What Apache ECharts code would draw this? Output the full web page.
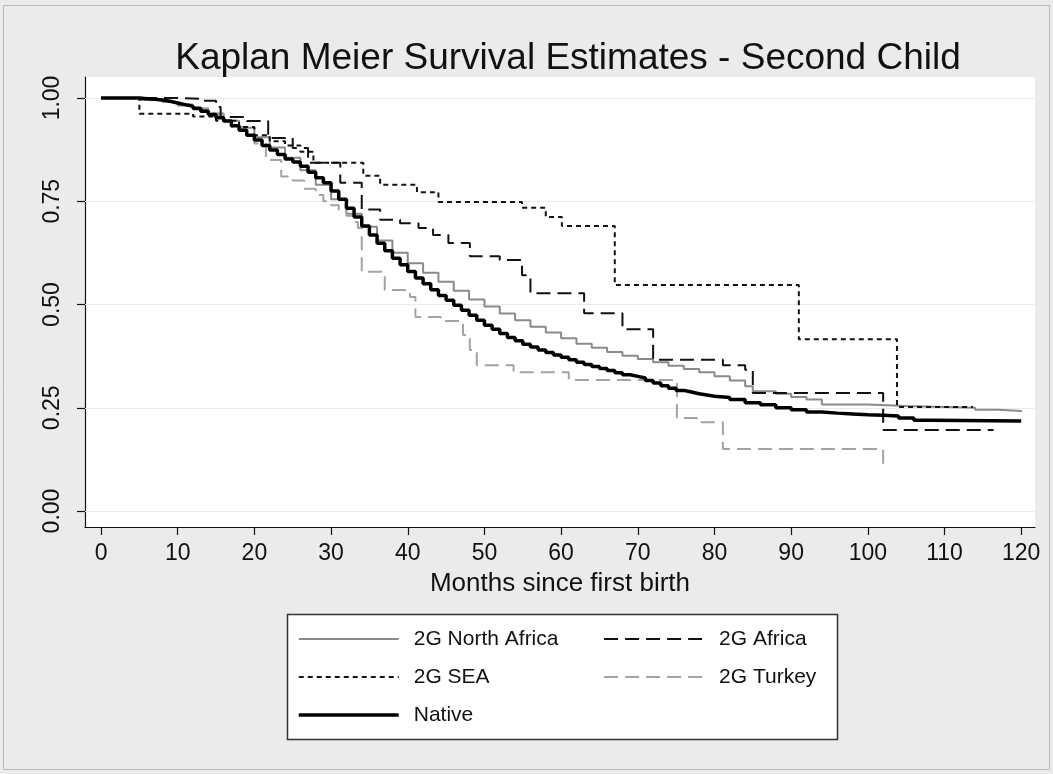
<!DOCTYPE html>
<html>
<head>
<meta charset="utf-8">
<script src="https://cdn.jsdelivr.net/npm/echarts@6/dist/echarts.min.js"></script>
<style>
  html, body { margin: 0; padding: 0; background: #ebebeb; }
  #chart { width: 1053px; height: 774px; }
</style>
</head>
<body>
<div id="chart"></div>
<script>
// Kaplan-Meier survival estimates: [month, survival] pairs, each value holds until the next step
const northAfrica = [[0,1],[5,0.995],[8,0.99],[10,0.982],[12,0.972],[14,0.96],[16,0.945],[18,0.928],[20,0.905],[22,0.88],
  [24,0.855],[26,0.825],[28,0.79],[30,0.755],[32,0.72],[34,0.688],[36,0.655],[38,0.625],[40,0.6],[42,0.577],[44,0.555],
  [46,0.533],[48,0.512],[50,0.495],[52,0.478],[54,0.462],[56,0.446],[58,0.432],[60,0.418],[62,0.405],[64,0.395],[66,0.385],
  [68,0.376],[70,0.368],[72,0.36],[74,0.352],[76,0.344],[78,0.336],[80,0.326],[82,0.316],[84,0.302],[85,0.29],[88,0.284],
  [90,0.276],[92,0.27],[94,0.258],[100,0.254],[105,0.252],[110,0.25],[114,0.245],[117,0.242],[120,0.24]];

const africa = [[0,1],[10,0.998],[13,0.993],[15,0.978],[15.6,0.954],[19,0.944],[21.8,0.903],[25,0.879],[27,0.843],
  [31.2,0.795],[34,0.73],[36.4,0.705],[39,0.697],[41.4,0.685],[43.3,0.668],[45.3,0.649],[48.1,0.617],[52,0.608],
  [54.9,0.571],[56,0.527],[63,0.479],[68,0.44],[72,0.366],[81.1,0.353],[84,0.342],[85,0.286],[102,0.196],[116.4,0.196]];

const sea = [[0,1],[5,0.962],[12,0.955],[15,0.945],[18,0.93],[20,0.91],[22,0.895],[24,0.885],[26,0.87],[27.7,0.843],
  [34.2,0.812],[36.4,0.79],[41.2,0.772],[44,0.748],[54.9,0.734],[58,0.712],[60.1,0.69],[67,0.547],[91,0.416],
  [103.8,0.252],[113.7,0.252]];

const turkey = [[0,1],[8,0.99],[10,0.985],[12,0.975],[14,0.963],[16,0.945],[17,0.93],[19,0.91],[20,0.89],[21.5,0.85],
  [23.5,0.81],[25,0.8],[26.5,0.78],[28,0.765],[29,0.75],[30,0.74],[31,0.728],[32,0.715],[33,0.7],[33.5,0.685],[34,0.579],
  [37,0.535],[40.3,0.518],[41,0.47],[44.3,0.46],[47.2,0.426],[48.1,0.39],[49,0.353],[53.8,0.336],[61,0.317],[75.1,0.225],
  [77.7,0.215],[81.1,0.15],[102,0.107]];

const native = [[0,1],[5,0.998],[6,0.997],[7,0.995],[8,0.992],[9,0.988],[10,0.984],[11,0.98],[12,0.975],[13,0.968],
  [14,0.96],[15,0.952],[16,0.944],[17,0.933],[18,0.922],[19,0.91],[20,0.898],[21,0.885],[22,0.874],[23,0.863],[24,0.852],
  [25,0.845],[26,0.835],[27,0.82],[28,0.807],[29,0.795],[30,0.775],[31,0.755],[32,0.733],[33,0.712],[34,0.69],[35,0.668],
  [36,0.648],[37,0.63],[38,0.612],[39,0.596],[40,0.58],[41,0.564],[42,0.55],[43,0.536],[44,0.522],[45,0.51],[46,0.498],
  [47,0.486],[48,0.474],[49,0.462],[50,0.45],[51,0.44],[52,0.43],[53,0.42],[54,0.412],[55,0.404],[56,0.397],[57,0.39],
  [58,0.384],[59,0.378],[60,0.372],[61,0.366],[62,0.36],[63,0.355],[64,0.35],[65,0.345],[66,0.34],[67,0.335],[68,0.33],
  [69,0.326],[70,0.322],[71,0.316],[72,0.31],[73,0.303],[74,0.297],[75,0.292],[76,0.288],[77,0.284],[78,0.281],[79,0.278],
  [80,0.275],[82,0.27],[84,0.262],[86,0.257],[88,0.25],[90,0.245],[92,0.24],[94,0.237],[96,0.235],[98,0.233],[100,0.232],
  [102,0.23],[104,0.225],[106,0.22],[108,0.218],[120,0.218]];

const xTicks = [0, 10, 20, 30, 40, 50, 60, 70, 80, 90, 100, 110, 120];
const yTicks = [0, 0.25, 0.5, 0.75, 1];

const FONT = "'Liberation Sans', Arial, sans-serif";

function kmSeries(name, data, color, width, dash, z) {
  return {
    name: name,
    type: 'line',
    step: 'end',
    data: data,
    symbol: 'none',
    showSymbol: false,
    z: z,
    lineStyle: { color: color, width: width, type: dash },
    itemStyle: { color: color },
    emphasis: { disabled: true }
  };
}

const chart = echarts.init(document.getElementById('chart'), null, { renderer: 'canvas' });

const legendText = { fontFamily: FONT, fontSize: 21, color: '#111', lineHeight: 22 };
// legend keys show only the line pattern, no marker
const legendKey = { opacity: 0, borderWidth: 0 };

chart.setOption({
  backgroundColor: '#ebebeb',
  animation: false,
  title: {
    text: 'Kaplan Meier Survival Estimates - Second Child',
    left: 563,
    textAlign: 'center',
    top: 35,
    textStyle: { fontFamily: FONT, fontSize: 37, fontWeight: 'normal', color: '#111' }
  },
  graphic: [
    { type: 'rect', z: -1, shape: { x: 3.5, y: 5.5, width: 1046, height: 764 },
      style: { fill: 'none', stroke: '#b8b8b8', lineWidth: 1 } },
    { type: 'rect', z: 1, shape: { x: 287.5, y: 614.5, width: 550, height: 125 },
      style: { fill: '#ffffff', stroke: '#333333', lineWidth: 1.5 } }
  ],
  legend: [
    {
      orient: 'vertical', left: 297, top: 628, padding: 0, itemGap: 16,
      itemWidth: 100, itemHeight: 14, z: 5,
      data: [
        { name: '2G North Africa', lineStyle: { width: 2 } },
        { name: '2G SEA', lineStyle: { width: 2.2 } },
        { name: 'Native', lineStyle: { width: 3.5 } }
      ],
      itemStyle: legendKey,
      textStyle: Object.assign({ padding: [0, 0, 0, 10] }, legendText),
      selectedMode: false
    },
    {
      orient: 'vertical', left: 603, top: 628, padding: 0, itemGap: 16,
      itemWidth: 102, itemHeight: 14, z: 5,
      data: [
        { name: '2G Africa', lineStyle: { width: 2.2 } },
        { name: '2G Turkey', lineStyle: { width: 2 } }
      ],
      itemStyle: legendKey,
      textStyle: Object.assign({ padding: [0, 0, 0, 8] }, legendText),
      selectedMode: false
    }
  ],
  grid: {
    left: 85, right: 18, top: 77, bottom: 247,
    show: true, backgroundColor: '#ffffff', borderWidth: 0
  },
  xAxis: {
    type: 'value',
    min: -2.09, max: 121.8,
    name: 'Months since first birth',
    nameLocation: 'middle',
    nameGap: 44,
    nameTextStyle: { fontFamily: FONT, fontSize: 26, color: '#111' },
    axisLine: { show: true, onZero: false, lineStyle: { color: '#111', width: 1.2 } },
    axisTick: { show: true, length: 8, customValues: xTicks, lineStyle: { color: '#111', width: 1.2 } },
    axisLabel: { customValues: xTicks, margin: 15, fontFamily: FONT, fontSize: 23, color: '#111' },
    splitLine: { show: false }
  },
  yAxis: {
    type: 'value',
    min: -0.0387, max: 1.0508,
    axisLine: { show: true, onZero: false, lineStyle: { color: '#111', width: 1.2 } },
    axisTick: { show: true, length: 8, customValues: yTicks, lineStyle: { color: '#111', width: 1.2 } },
    axisLabel: {
      customValues: yTicks, rotate: 90, margin: 21,
      fontFamily: FONT, fontSize: 23, color: '#111',
      formatter: function (v) { return v.toFixed(2); }
    },
    splitLine: { show: false }
  },
  series: [
    Object.assign(kmSeries('2G North Africa', northAfrica, '#8a8a8a', 2, 'solid', 3), {
      markLine: {
        silent: true, symbol: 'none', z: 1,
        label: { show: false },
        lineStyle: { color: '#ebebeb', width: 1, type: 'solid' },
        data: yTicks.map(function (v) { return { yAxis: v }; })
      }
    }),
    kmSeries('2G Turkey', turkey, '#a3a3a3', 2, [14, 7], 3),
    kmSeries('2G SEA', sea, '#111111', 2, [5, 4], 4),
    kmSeries('2G Africa', africa, '#111111', 2, [14, 7], 4),
    kmSeries('Native', native, '#000000', 3.5, 'solid', 5)
  ]
});
</script>
</body>
</html>
